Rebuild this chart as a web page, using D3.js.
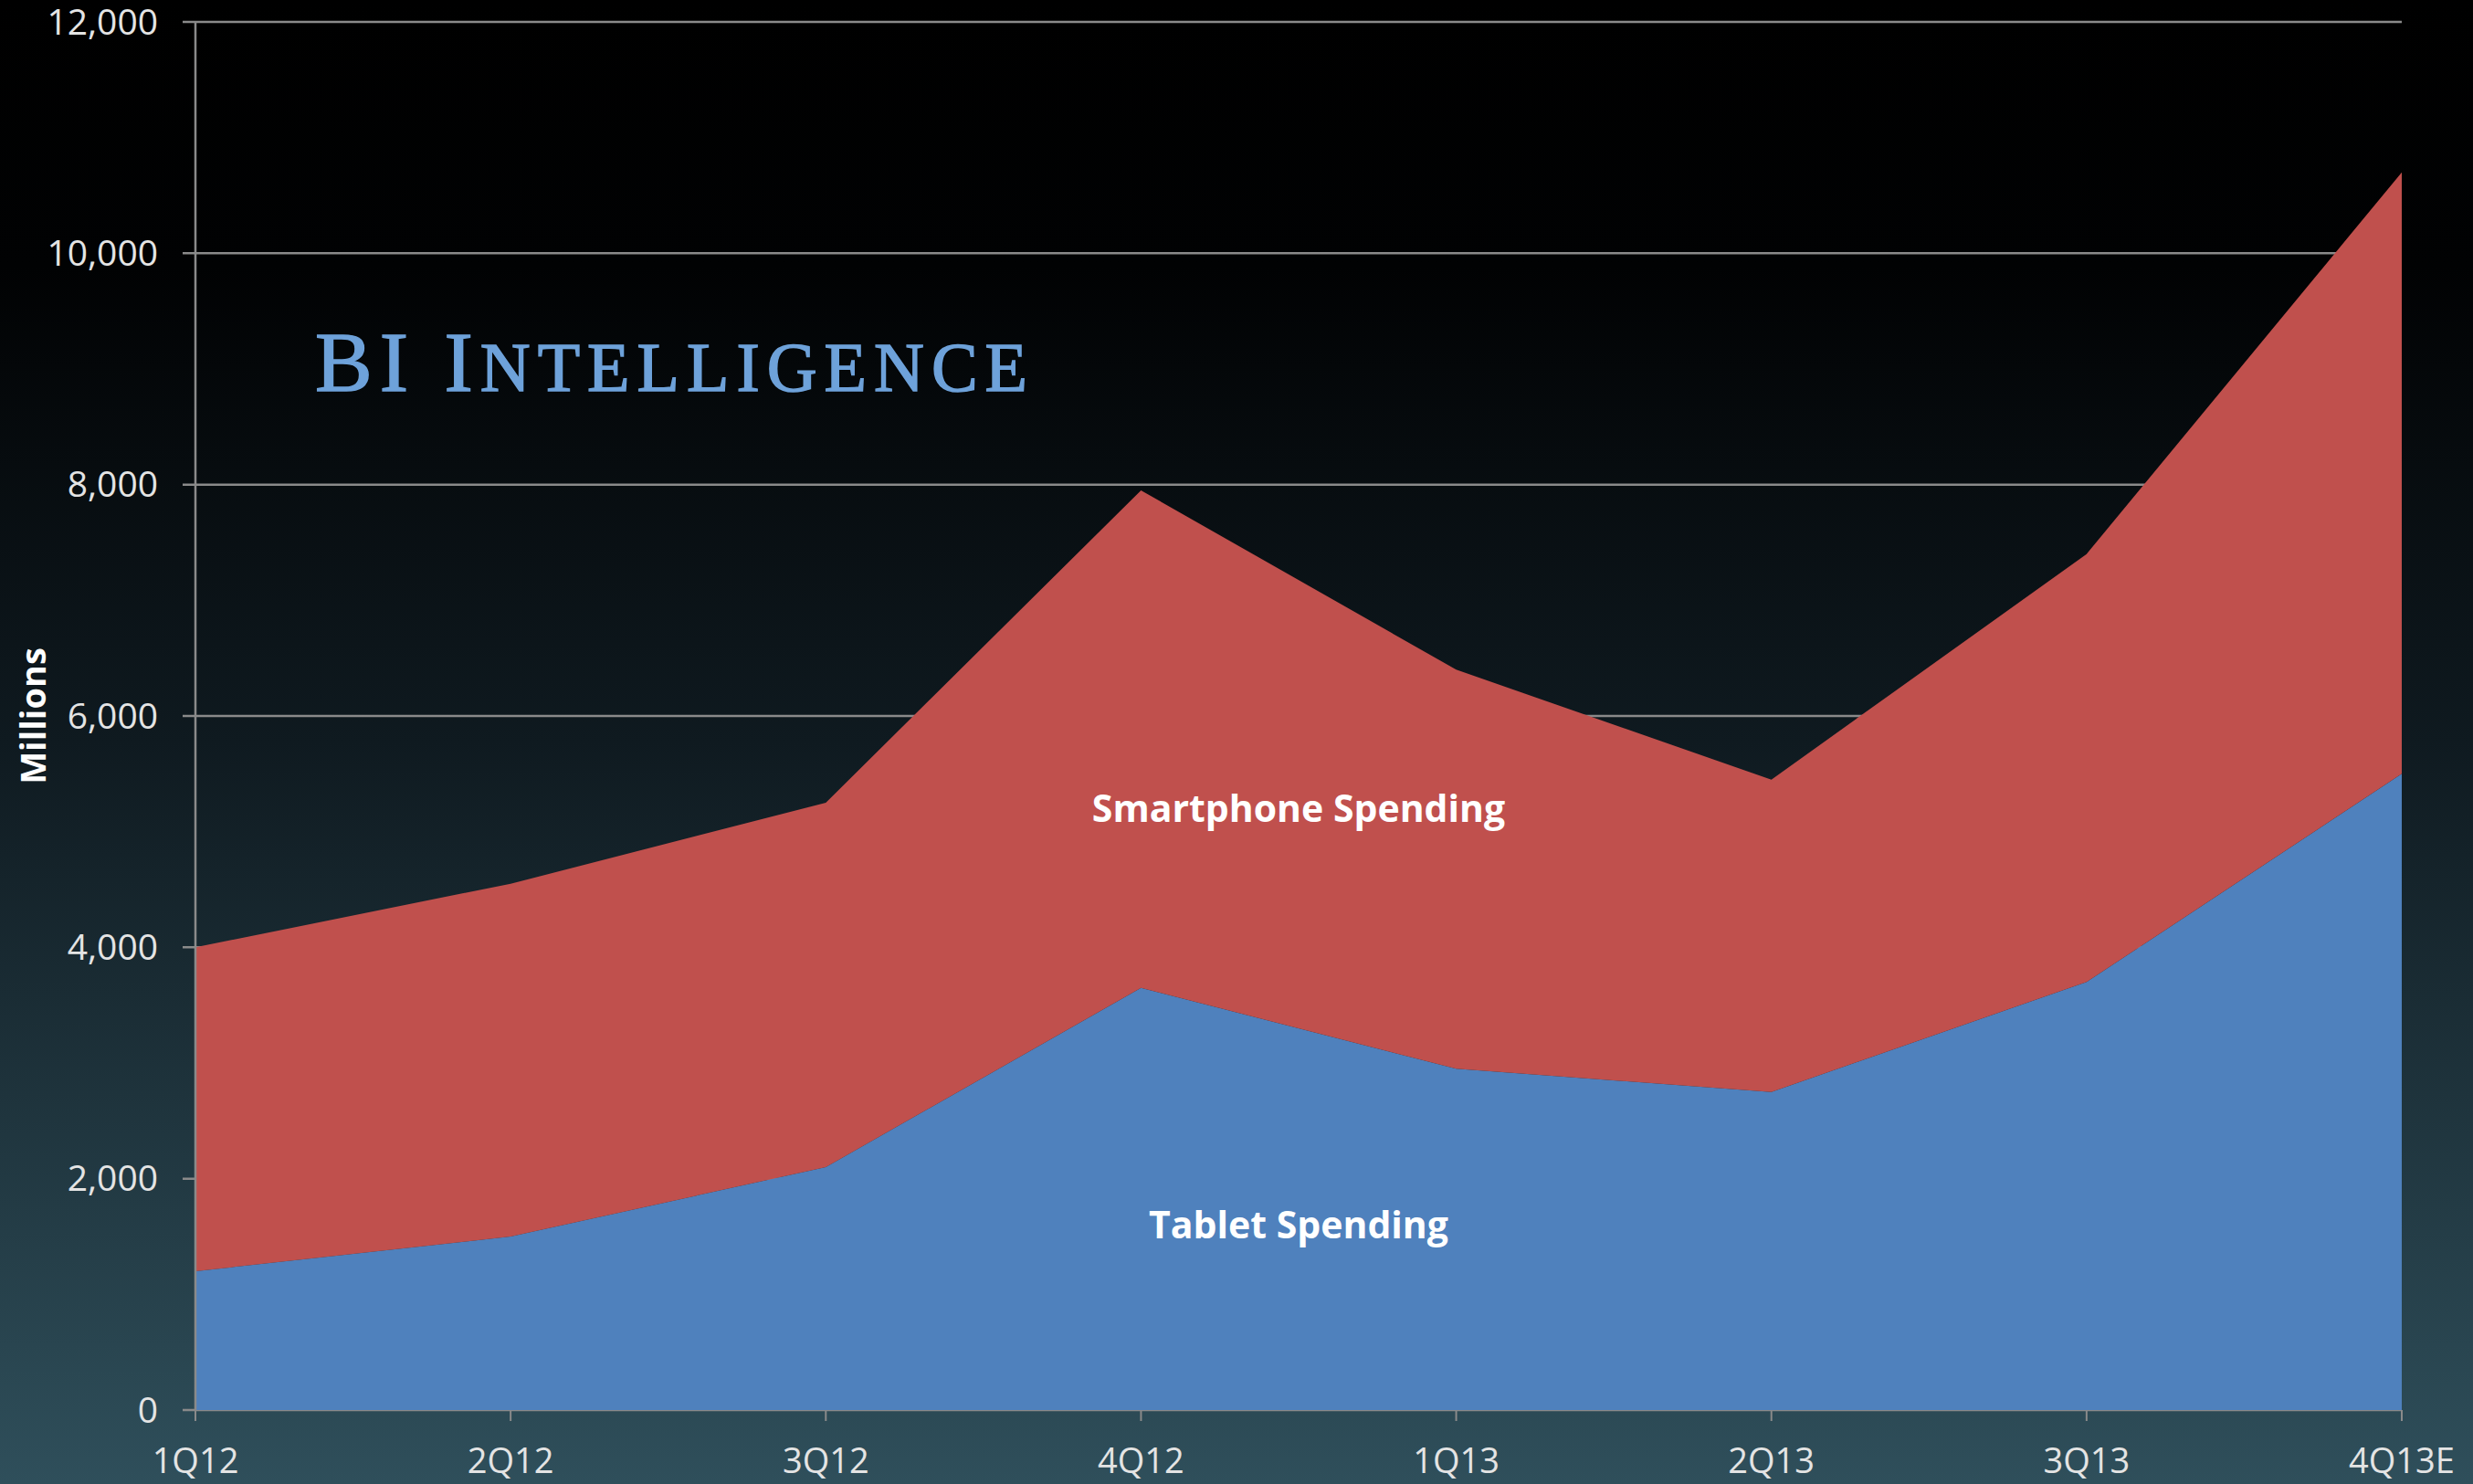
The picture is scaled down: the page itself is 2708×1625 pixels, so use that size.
<!DOCTYPE html>
<html>
<head>
<meta charset="utf-8">
<script src="https://cdn.jsdelivr.net/npm/d3@7"></script>
<style>
  html, body { margin: 0; padding: 0; background: #000; overflow: hidden; }
  svg { display: block; }
</style>
</head>
<body>
<div id="chart"></div>
<script>
// quarters and spending, millions of dollars
const quarters = ["1Q12", "2Q12", "3Q12", "4Q12", "1Q13", "2Q13", "3Q13", "4Q13E"];
const tabletSpending = [1200, 1500, 2100, 3650, 2950, 2750, 3700, 5500];
const smartphoneSpending = [2800, 3050, 3150, 4300, 3450, 2700, 3700, 5200];
const yTicks = [0, 2000, 4000, 6000, 8000, 10000, 12000];

const width = 2708;
const height = 1625;
const margin = { top: 24, right: 78, bottom: 81, left: 214 };

const svg = d3.select("#chart").append("svg")
    .attr("width", width)
    .attr("height", height);

// background gradient, black at the top fading to dark teal
const grad = svg.append("defs").append("linearGradient")
    .attr("id", "bg")
    .attr("x1", 0).attr("y1", 0).attr("x2", 0).attr("y2", 1);
grad.append("stop").attr("offset", "0%").attr("stop-color", "#000000");
grad.append("stop").attr("offset", "18%").attr("stop-color", "#010203");
grad.append("stop").attr("offset", "50%").attr("stop-color", "#0f1a20");
grad.append("stop").attr("offset", "100%").attr("stop-color", "#2f4f5b");

svg.append("rect")
    .attr("width", width)
    .attr("height", height)
    .attr("fill", "url(#bg)");

const x = d3.scalePoint()
    .domain(quarters)
    .range([margin.left, width - margin.right]);

const y = d3.scaleLinear()
    .domain([0, 12000])
    .range([height - margin.bottom, margin.top]);

const data = quarters.map((q, i) => ({
    quarter: q,
    tablet: tabletSpending[i],
    smartphone: smartphoneSpending[i]
}));

const stack = d3.stack().keys(["tablet", "smartphone"]);
const series = stack(data);
const colors = { tablet: "#4f81bd", smartphone: "#c0504d" };

// gridlines
svg.append("g")
    .selectAll("line")
    .data(yTicks)
    .enter().append("line")
    .attr("x1", margin.left - 14)
    .attr("x2", width - margin.right)
    .attr("y1", d => y(d))
    .attr("y2", d => y(d))
    .attr("stroke", "#8a8a8a")
    .attr("stroke-width", 2.5);

// stacked areas
const area = d3.area()
    .x(d => x(d.data.quarter))
    .y0(d => y(d[0]))
    .y1(d => y(d[1]));

svg.append("g")
    .selectAll("path")
    .data(series)
    .enter().append("path")
    .attr("d", area)
    .attr("fill", d => colors[d.key]);

// y axis line
svg.append("line")
    .attr("x1", margin.left).attr("x2", margin.left)
    .attr("y1", y(12000)).attr("y2", y(0))
    .attr("stroke", "#8a8a8a")
    .attr("stroke-width", 2.5);

// x ticks
svg.append("g")
    .selectAll("line")
    .data(quarters)
    .enter().append("line")
    .attr("x1", d => x(d)).attr("x2", d => x(d))
    .attr("y1", y(0)).attr("y2", y(0) + 12)
    .attr("stroke", "#8a8a8a")
    .attr("stroke-width", 2);

// y tick labels
svg.append("g")
    .selectAll("text")
    .data(yTicks)
    .enter().append("text")
    .attr("x", margin.left - 41)
    .attr("y", d => y(d))
    .attr("dy", "0.35em")
    .attr("text-anchor", "end")
    .attr("fill", "#e4e4e4")
    .style("font-family", "'Open Sans', sans-serif")
    .style("font-size", "39px")
    .text(d => d3.format(",")(d));

// x tick labels
svg.append("g")
    .selectAll("text")
    .data(quarters)
    .enter().append("text")
    .attr("x", d => x(d))
    .attr("y", height - 12)
    .attr("text-anchor", "middle")
    .attr("fill", "#e4e4e4")
    .style("font-family", "'Open Sans', sans-serif")
    .style("font-size", "38px")
    .text(d => d);

// axis title
svg.append("text")
    .attr("transform", `translate(50, ${y(6000)}) rotate(-90)`)
    .attr("text-anchor", "middle")
    .attr("fill", "#ffffff")
    .style("font-family", "'Open Sans', sans-serif")
    .style("font-weight", "bold")
    .style("font-size", "38px")
    .text("Millions");

// series labels
const seriesLabels = [
    { text: "Smartphone Spending", value: 5200 },
    { text: "Tablet Spending", value: 1600 }
];
svg.append("g")
    .selectAll("text")
    .data(seriesLabels)
    .enter().append("text")
    .attr("x", (x("4Q12") + x("1Q13")) / 2)
    .attr("y", d => y(d.value))
    .attr("dy", "0.35em")
    .attr("text-anchor", "middle")
    .attr("fill", "#ffffff")
    .style("font-family", "'Open Sans', sans-serif")
    .style("font-weight", "bold")
    .style("font-size", "41px")
    .text(d => d.text);

// logo: large initial capitals, smaller capitals for the rest
const logo = svg.append("text")
    .attr("x", 345)
    .attr("y", 428)
    .attr("fill", "#6ea2da")
    .attr("stroke", "#6ea2da")
    .attr("stroke-width", 1.5)
    .style("font-family", "'Liberation Serif', serif")
    .style("letter-spacing", "8px");
logo.append("tspan").style("font-size", "94px").text("BI I");
logo.append("tspan").style("font-size", "76px").text("NTELLIGENCE");
</script>
</body>
</html>
